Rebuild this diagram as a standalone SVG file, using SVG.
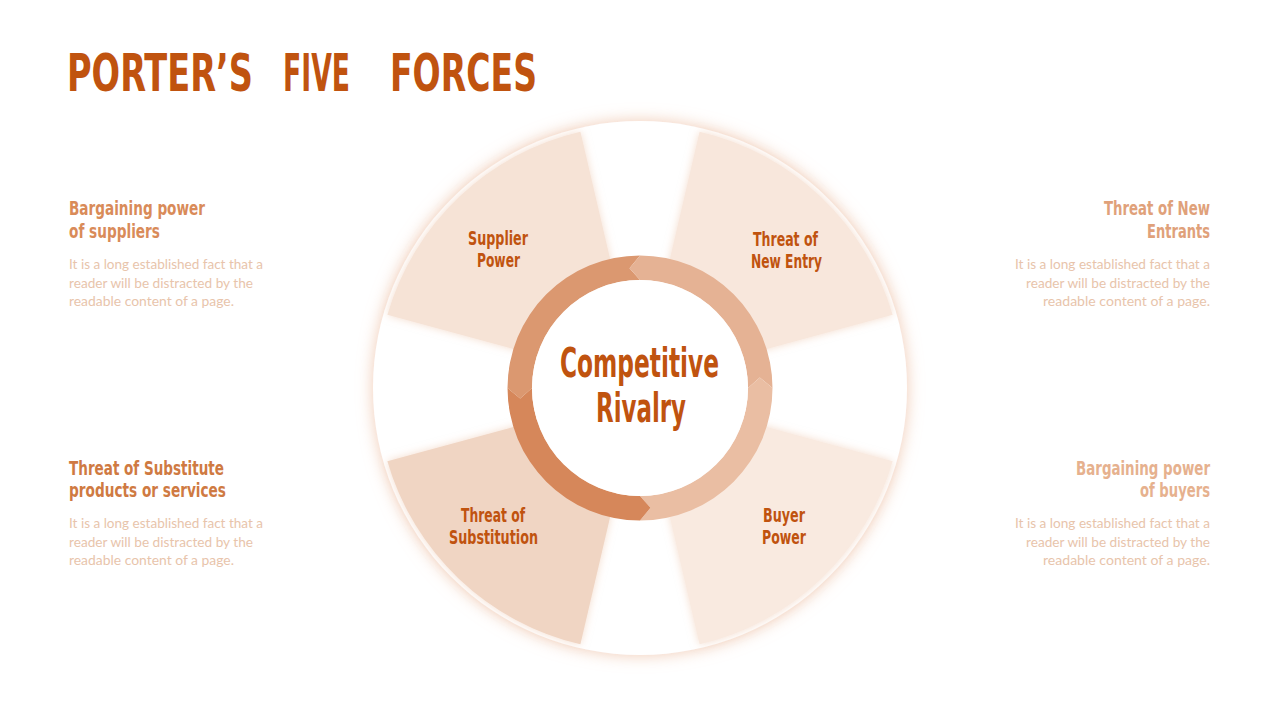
<svg xmlns="http://www.w3.org/2000/svg" width="1280" height="720" viewBox="0 0 1280 720">
  <defs>
    <filter id="glow" x="-20%" y="-20%" width="140%" height="140%">
      <feGaussianBlur in="SourceAlpha" stdDeviation="8" result="b"/>
      <feFlood flood-color="#eab393" flood-opacity="0.7"/>
      <feComposite in2="b" operator="in" result="s"/>
      <feMerge><feMergeNode in="s"/><feMergeNode in="SourceGraphic"/></feMerge>
    </filter>
    <filter id="bshadow" x="-20%" y="-20%" width="140%" height="140%">
      <feGaussianBlur in="SourceAlpha" stdDeviation="4" result="b"/>
      <feFlood flood-color="#ecc0a3" flood-opacity="0.55"/>
      <feComposite in2="b" operator="in" result="s"/>
      <feMerge><feMergeNode in="s"/><feMergeNode in="SourceGraphic"/></feMerge>
    </filter>
    <style>
      .title { font-family: "DejaVu Sans Condensed", "DejaVu Sans", sans-serif; font-stretch: condensed; font-weight: bold; font-size: 40px; fill: #c0530f; }
      .head { font-family: "DejaVu Sans Condensed", "DejaVu Sans", sans-serif; font-stretch: condensed; font-weight: bold; font-size: 20px; }
      .body { font-family: Lato, "Liberation Sans", sans-serif; font-size: 13px; fill: #e8c4ab; }
      .lbl { font-family: "DejaVu Sans Condensed", "DejaVu Sans", sans-serif; font-stretch: condensed; font-weight: bold; font-size: 20px; fill: #c0530f; }
      .center { font-family: "DejaVu Sans Condensed", "DejaVu Sans", sans-serif; font-stretch: condensed; font-weight: bold; font-size: 40px; fill: #c0530f; }
    </style>
  </defs>
  <rect width="1280" height="720" fill="#ffffff"/>

  <g id="title" transform="translate(0,91) scale(1,1.3) translate(0,-91)">
    <text class="title" y="91"><tspan x="67" textLength="186" lengthAdjust="spacingAndGlyphs">PORTER’S</tspan><tspan x="283" textLength="67" lengthAdjust="spacingAndGlyphs">FIVE</tspan><tspan x="390" textLength="147" lengthAdjust="spacingAndGlyphs">FORCES</tspan></text>
  </g>

  <g id="wheel">
    <circle cx="640" cy="388" r="267" fill="#ffffff" filter="url(#glow)"/>
  </g>

  <g id="blade-supplier" filter="url(#bshadow)">
    <path d="M639,383 L387.4,314.8 A263,263 0 0 1 580.4,131.7 Z" fill="#f6e3d6"/>
  </g>
  <g id="blade-new-entry" filter="url(#bshadow)">
    <path d="M641,383 L699.6,131.7 A263,263 0 0 1 892.6,314.8 Z" fill="#f8e7dc"/>
  </g>
  <g id="blade-substitution" filter="url(#bshadow)">
    <path d="M639,393 L580.4,644.3 A263,263 0 0 1 387.4,461.2 Z" fill="#f0d5c3"/>
  </g>
  <g id="blade-buyer" filter="url(#bshadow)">
    <path d="M641,393 L892.6,461.2 A263,263 0 0 1 699.6,644.3 Z" fill="#f9eae0"/>
  </g>

  <g id="connectors">
    <path d="M520.21,398.48 L507.5,388 A132.5,132.5 0 0 1 640,255.5 L629.52,268.21 L640,280 A108,108 0 0 0 532,388 Z" fill="#db9870"/>
    <path d="M629.52,268.21 L640,255.5 A132.5,132.5 0 0 1 772.5,388 L759.79,377.52 L748,388 A108,108 0 0 0 640,280 Z" fill="#e5b294"/>
    <path d="M759.79,377.52 L772.5,388 A132.5,132.5 0 0 1 640,520.5 L650.48,507.79 L640,496 A108,108 0 0 0 748,388 Z" fill="#eabea3"/>
    <path d="M650.48,507.79 L640,520.5 A132.5,132.5 0 0 1 507.5,388 L520.21,398.48 L532,388 A108,108 0 0 0 640,496 Z" fill="#d6875a"/>
  </g>

  <g id="competitive-rivalry">
    <circle cx="640" cy="388" r="108" fill="#ffffff"/>
    <text class="center" x="560" y="377" textLength="159" lengthAdjust="spacingAndGlyphs">Competitive</text>
    <text class="center" x="596" y="422" textLength="90" lengthAdjust="spacingAndGlyphs">Rivalry</text>
  </g>

  <g id="label-supplier">
    <text class="lbl" x="468" y="245" textLength="60" lengthAdjust="spacingAndGlyphs">Supplier</text>
    <text class="lbl" x="477" y="267" textLength="43" lengthAdjust="spacingAndGlyphs">Power</text>
  </g>
  <g id="label-new-entry">
    <text class="lbl" x="753" y="246" textLength="65" lengthAdjust="spacingAndGlyphs">Threat of</text>
    <text class="lbl" x="751" y="268" textLength="71" lengthAdjust="spacingAndGlyphs">New Entry</text>
  </g>
  <g id="label-substitution">
    <text class="lbl" x="461" y="522" textLength="64" lengthAdjust="spacingAndGlyphs">Threat of</text>
    <text class="lbl" x="449" y="544" textLength="89" lengthAdjust="spacingAndGlyphs">Substitution</text>
  </g>
  <g id="label-buyer">
    <text class="lbl" x="763" y="522" textLength="42" lengthAdjust="spacingAndGlyphs">Buyer</text>
    <text class="lbl" x="762" y="544" textLength="44" lengthAdjust="spacingAndGlyphs">Power</text>
  </g>

  <g id="note-suppliers">
    <text class="head" fill="#d98b59" x="69" y="215" textLength="136" lengthAdjust="spacingAndGlyphs">Bargaining power</text>
    <text class="head" fill="#d98b59" x="69" y="238" textLength="91" lengthAdjust="spacingAndGlyphs">of suppliers</text>
    <text class="body" x="69" y="269" textLength="194" lengthAdjust="spacingAndGlyphs">It is a long established fact that a</text>
    <text class="body" x="69" y="288" textLength="184" lengthAdjust="spacingAndGlyphs">reader will be distracted by the</text>
    <text class="body" x="69" y="306" textLength="165" lengthAdjust="spacingAndGlyphs">readable content of a page.</text>
  </g>

  <g id="note-new-entrants">
    <text class="head" fill="#e0a17a" x="1104" y="215" textLength="106" lengthAdjust="spacingAndGlyphs">Threat of New</text>
    <text class="head" fill="#e0a17a" x="1147" y="238" textLength="63" lengthAdjust="spacingAndGlyphs">Entrants</text>
    <text class="body" x="1015" y="269" textLength="195" lengthAdjust="spacingAndGlyphs">It is a long established fact that a</text>
    <text class="body" x="1026" y="288" textLength="184" lengthAdjust="spacingAndGlyphs">reader will be distracted by the</text>
    <text class="body" x="1043" y="306" textLength="167" lengthAdjust="spacingAndGlyphs">readable content of a page.</text>
  </g>

  <g id="note-substitutes">
    <text class="head" fill="#cf7a42" x="69" y="475" textLength="155" lengthAdjust="spacingAndGlyphs">Threat of Substitute</text>
    <text class="head" fill="#cf7a42" x="69" y="497" textLength="157" lengthAdjust="spacingAndGlyphs">products or services</text>
    <text class="body" x="69" y="528" textLength="194" lengthAdjust="spacingAndGlyphs">It is a long established fact that a</text>
    <text class="body" x="69" y="547" textLength="184" lengthAdjust="spacingAndGlyphs">reader will be distracted by the</text>
    <text class="body" x="69" y="565" textLength="165" lengthAdjust="spacingAndGlyphs">readable content of a page.</text>
  </g>

  <g id="note-buyers">
    <text class="head" fill="#e6b18e" x="1076" y="475" textLength="134" lengthAdjust="spacingAndGlyphs">Bargaining power</text>
    <text class="head" fill="#e6b18e" x="1140" y="497" textLength="70" lengthAdjust="spacingAndGlyphs">of buyers</text>
    <text class="body" x="1015" y="528" textLength="195" lengthAdjust="spacingAndGlyphs">It is a long established fact that a</text>
    <text class="body" x="1026" y="547" textLength="184" lengthAdjust="spacingAndGlyphs">reader will be distracted by the</text>
    <text class="body" x="1043" y="565" textLength="167" lengthAdjust="spacingAndGlyphs">readable content of a page.</text>
  </g>
</svg>
